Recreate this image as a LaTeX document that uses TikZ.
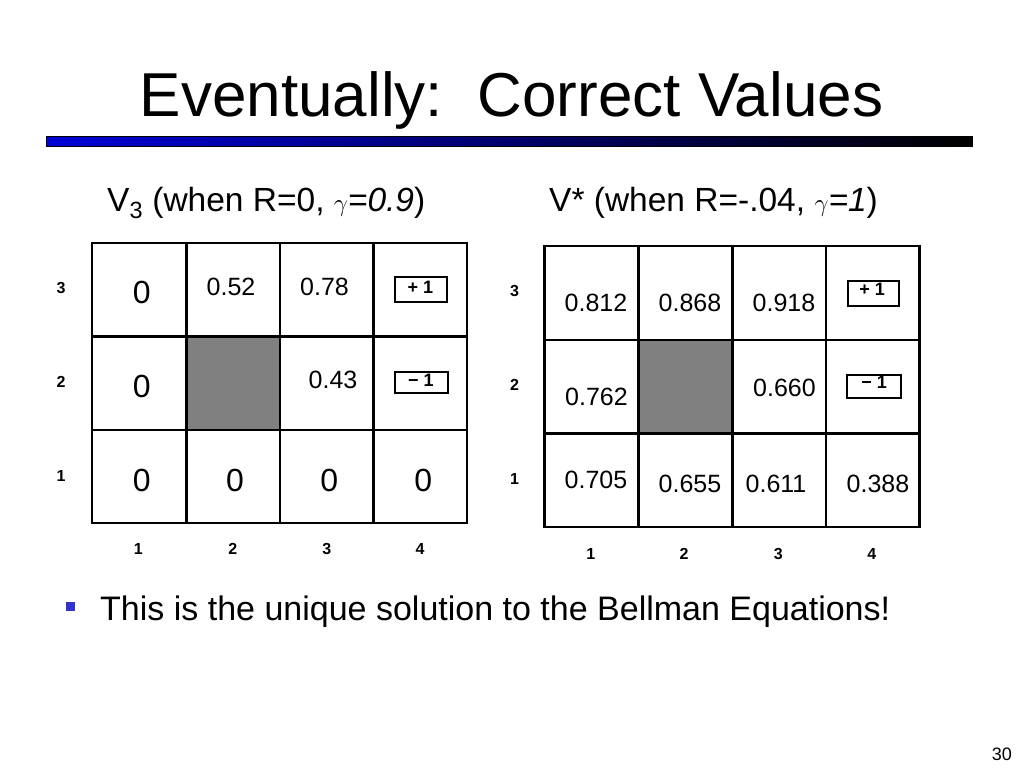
\documentclass[tikz,border=0pt]{standalone}
\usepackage{fontspec}
\setmainfont{Liberation Sans}
\definecolor{barblue}{RGB}{0,0,215}
\definecolor{barmid}{RGB}{0,0,150}
\definecolor{bulletblue}{RGB}{51,51,204}
\definecolor{wallgray}{RGB}{128,128,128}
\begin{document}
\begin{tikzpicture}[x=1pt,y=-1pt,
	gridline/.style={line width=2.8pt},
	wall/.style={fill=wallgray},
	termbox/.style={draw, line width=2pt, inner sep=0pt},
	termlbl/.style={anchor=base, inner sep=0pt, font=\bfseries\fontsize{18}{20}\selectfont},
	val/.style={anchor=base, inner sep=0pt, font=\fontsize{25}{30}\selectfont},
	bigval/.style={anchor=base, inner sep=0pt, font=\fontsize{32}{38}\selectfont},
	axislbl/.style={anchor=base, inner sep=0pt, font=\bfseries\fontsize{16}{18}\selectfont}]
	\useasboundingbox (0,0) rectangle (1024,768);
	% title and bar
	\node[anchor=base, inner sep=0pt, font=\fontsize{62}{70}\selectfont] (title) at (511.5,116) {Eventually:\ \ Correct Values};
	\shade[left color=barblue, middle color=barmid, right color=black, draw=black, line width=0.8pt] (46,136) rectangle (972,146);
	% headings
	\node[anchor=base west, inner sep=0pt, font=\fontsize{33.5}{40}\selectfont] (headA) at (107,211) {V\textsubscript{3} (when R=0, $\gamma$\textit{=0.9})};
	\node[anchor=base west, inner sep=0pt, font=\fontsize{33.5}{40}\selectfont] (headB) at (549,211) {V* (when R=-.04, $\gamma$\textit{=1})};
	%% left grid
	\fill[wall] (186.5,336.5) rectangle (280,430);
	\draw[gridline] (92,243) rectangle (467,523);
	\foreach \x in {186.5,280,373.5} \draw[gridline] (\x,243) -- (\x,523);
	\foreach \y in {336.5,430} \draw[gridline] (92,\y) -- (467,\y);
	\node[termbox, minimum width=52pt, minimum height=25pt] (plusA) at (421,289.5) {};
	\node[termlbl] (plusAtxt) at (420.5,293) {+ 1};
	\node[termbox, minimum width=53pt, minimum height=21pt] (minusA) at (421.5,382) {};
	\node[termlbl] (minusAtxt) at (421,386.5) {− 1};
	\node[bigval] (a31) at (141.7,303) {0};
	\node[val] (a32) at (231,295) {0.52};
	\node[val] (a33) at (324.5,295) {0.78};
	\node[bigval] (a21) at (141.7,397) {0};
	\node[val] (a23) at (333,388) {0.43};
	\node[bigval] (a11) at (141.7,491) {0};
	\node[bigval] (a12) at (235,491) {0};
	\node[bigval] (a13) at (329.3,491) {0};
	\node[bigval] (a14) at (423.3,491) {0};
	\node[axislbl] (ar3) at (61,293) {3};
	\node[axislbl] (ar2) at (61,387) {2};
	\node[axislbl] (ar1) at (61,481) {1};
	\node[axislbl] (ac1) at (138.3,554) {1};
	\node[axislbl] (ac2) at (232.7,554) {2};
	\node[axislbl] (ac3) at (326.7,554) {3};
	\node[axislbl] (ac4) at (420,554) {4};
	%% right grid
	\fill[wall] (638.5,340) rectangle (732.5,433.5);
	\draw[gridline] (544.5,246) rectangle (919.5,527);
	\foreach \x in {638.5,732.5,826} \draw[gridline] (\x,246) -- (\x,527);
	\foreach \y in {340,433.5} \draw[gridline] (544.5,\y) -- (919.5,\y);
	\node[termbox, minimum width=51pt, minimum height=25pt] (plusB) at (873.5,293) {};
	\node[termlbl] (plusBtxt) at (872,295) {+ 1};
	\node[termbox, minimum width=54pt, minimum height=23pt] (minusB) at (874,386.5) {};
	\node[termlbl] (minusBtxt) at (874,388.5) {− 1};
	\node[val] (b31) at (596,311) {0.812};
	\node[val] (b32) at (690,311) {0.868};
	\node[val] (b33) at (784,311) {0.918};
	\node[val] (b21) at (596.5,405) {0.762};
	\node[val] (b23) at (784.5,396) {0.660};
	\node[val] (b11) at (596,488) {0.705};
	\node[val] (b12) at (690,492) {0.655};
	\node[val] (b13) at (776,492) {0.611};
	\node[val] (b14) at (878,492) {0.388};
	\node[axislbl] (br3) at (514.5,296) {3};
	\node[axislbl] (br2) at (514.5,390) {2};
	\node[axislbl] (br1) at (514.5,484) {1};
	\node[axislbl] (bc1) at (590.7,559) {1};
	\node[axislbl] (bc2) at (684,559) {2};
	\node[axislbl] (bc3) at (778.3,559) {3};
	\node[axislbl] (bc4) at (871.7,559) {4};
	% bullet and page number
	\fill[bulletblue] (66,602) rectangle (75,611);
	\node[anchor=base west, inner sep=0pt, font=\fontsize{34}{40}\selectfont] (bullet) at (100,620) {This is the unique solution to the Bellman Equations!};
	\node[anchor=base east, inner sep=0pt, font=\fontsize{18}{20}\selectfont] (pageno) at (1012,760) {30};
\end{tikzpicture}
\end{document}
